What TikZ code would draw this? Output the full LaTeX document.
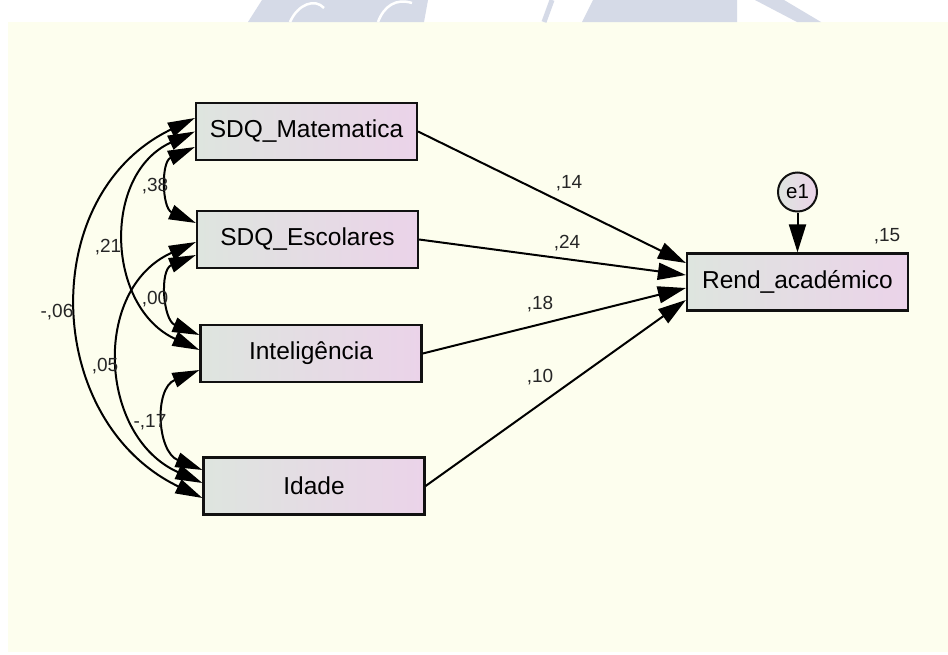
\documentclass[tikz,border=0pt]{standalone}
\usepackage{fontspec}
\setmainfont{Liberation Sans}
\usetikzlibrary{arrows.meta,calc}

\definecolor{cream}{HTML}{FDFEEE}
\definecolor{boxL}{HTML}{DEE5DF}
\definecolor{boxR}{HTML}{EBD3E9}
\definecolor{wmark}{HTML}{D5DAE7}
\definecolor{edge}{HTML}{111111}

\begin{document}
\begin{tikzpicture}[x=1pt,y=-1pt,
  var/.style={draw=edge, line width=2.2pt, left color=boxL, right color=boxR,
    minimum width=221pt, minimum height=57pt, inner sep=0pt,
    font=\fontsize{24.5}{28}\selectfont},
  errc/.style={circle, draw=edge, line width=2pt, left color=boxL, right color=boxR,
    minimum size=39pt, inner sep=0pt, font=\fontsize{20.5}{22}\selectfont},
  coef/.style={font=\fontsize{19}{21}\selectfont, text=black!85, inner sep=0pt},
  regpath/.style={-{Triangle[length=28pt,width=17pt]}, line width=2pt, draw=black},
  cov/.style={{Triangle[length=27pt,width=15pt]}-{Triangle[length=27pt,width=15pt]},
    line width=2pt, draw=black}]

\useasboundingbox (0,0) rectangle (948,654);
\fill[white] (0,0) rectangle (948,654);
\fill[cream] (8,22) rectangle (948,652);

% faint logo shapes along the top strip
\begin{scope}
  \clip (0,0) rectangle (948,22);
  \fill[wmark] (262,0) -- (428,0) -- (424,22) -- (248,22) -- cycle;
  \draw[white, line width=2.5pt] (290,22) .. controls (298,4) and (315,-2) .. (324,8);
  \draw[white, line width=2.5pt] (378,22) .. controls (384,6) and (396,-2) .. (412,3);
  \draw[wmark, line width=5pt] (552,0) -- (544,22);
  \fill[wmark] (593,0) -- (737,0) -- (737,22) -- (582,22) -- cycle;
  \fill[wmark] (755,0) -- (784,0) -- (821,22) -- (797,22) -- cycle;
\end{scope}

% observed variables
\node[var] (mat) at (306.5,131.5) {SDQ\_Matematica};
\node[var] (esc) at (307.5,239.5) {SDQ\_Escolares};
\node[var] (int) at (311,353.5) {Inteligência};
\node[var] (ida) at (314,486) {Idade};
\node[var] (rend) at (797.5,282) {Rend\_académico};
\node[errc] (e1) at (797.5,192) {e1};

% regression paths
\draw[regpath] (mat.east) -- ([yshift=19pt]rend.west);
\draw[regpath] (esc.east) -- ([yshift=7pt]rend.west);
\draw[regpath] (int.east) -- ([yshift=-6pt]rend.west);
\draw[regpath] (ida.east) -- ([yshift=-18pt]rend.west);
\draw[regpath] (e1.south) -- (rend.north);

% covariances
\draw[cov] ([yshift=-15.5pt]mat.west) .. controls +(-34,15) and +(-34,-15) .. ([yshift=16.5pt]esc.west);
\draw[cov] ([yshift=-15.5pt]esc.west) .. controls +(-36.5,15) and +(-36.5,-15) .. ([yshift=18.5pt]int.west);
\draw[cov] ([yshift=-16.5pt]int.west) .. controls +(-45.5,18.4) and +(-45.5,-18.4) .. ([yshift=16pt]ida.west);
\draw[cov] (mat.west) .. controls +(-93.3,42.7) and +(-93.3,-42.7) .. ([yshift=3.5pt]int.west);
\draw[cov] ([yshift=-2.5pt]esc.west) .. controls +(-104.3,46.4) and +(-104.3,-46.4) .. ([yshift=3pt]ida.west);
\draw[cov] ([yshift=13.5pt]mat.west) .. controls +(-159.3,76.6) and +(-159.3,-76.6) .. ([yshift=-12pt]ida.west);

% estimates
\node[coef] (c14) at (569,183) {,14};
\node[coef] (c24) at (567,243) {,24};
\node[coef] (c18) at (540,304) {,18};
\node[coef] (c10) at (540,377) {,10};
\node[coef] (r2) at (887,236) {,15};
\node[coef] (c38) at (155,186) {,38};
\node[coef] (c21) at (108,247) {,21};
\node[coef] (c00) at (155,299) {,00};
\node[coef] (c06) at (57,312) {-,06};
\node[coef] (c05) at (105,366) {,05};
\node[coef] (c17) at (150,422) {-,17};

\end{tikzpicture}
\end{document}
